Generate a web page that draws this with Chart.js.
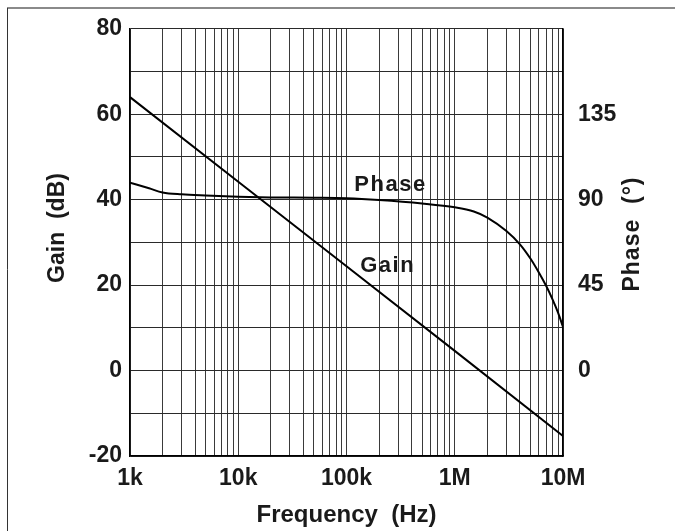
<!DOCTYPE html>
<html>
<head>
<meta charset="utf-8">
<script src="https://cdn.jsdelivr.net/npm/chart.js@4.4.1/dist/chart.umd.min.js"></script>
<style>
  html, body { margin: 0; padding: 0; background: #fff; }
</style>
</head>
<body>
<canvas id="bode" width="675" height="531"></canvas>
<script>
// open-loop gain / phase vs frequency
const decadeTicks = [1e3, 1e4, 1e5, 1e6, 1e7];
const decadeLabels = ['1k', '10k', '100k', '1M', '10M'];
const phaseTicks = [0, 45, 90, 135];

const gainFreq = [1e3, 1e4, 1e5, 1e6, 1e7];
const gainDb = [64, 44.2, 24.4, 4.6, -15.3];

const phaseFreq = [1e3, 1.5e3, 2e3, 3e3, 5e3, 1e4, 2e4, 5e4, 1e5, 2e5, 5e5,
  1e6, 1.5e6, 2e6, 3e6, 4e6, 5e6, 6e6, 7e6, 8e6, 9e6, 1e7];
const phaseDeg = [99, 96, 93.8, 92.8, 92.2, 91.6, 91.2, 91, 90.7, 89.8, 88,
  86, 83.8, 80.6, 73.5, 66.5, 59, 51.5, 44.5, 37.5, 30.5, 23];

const INK = '#1a1a1a';
const FONT = 'Liberation Sans, Arial, sans-serif';
const SIZE = 23;

const toPoints = (xs, ys) => xs.map((x, i) => ({ x, y: ys[i] }));

// 1..9 x every decade for the log grid
function logGridTicks(scale) {
  const ticks = [];
  for (let d = 0; d < decadeTicks.length - 1; d++) {
    for (let m = 1; m < 10; m++) ticks.push({ value: decadeTicks[d] * m });
  }
  ticks.push({ value: decadeTicks[decadeTicks.length - 1] });
  scale.ticks = ticks;
}

const textPlugin = {
  id: 'bodeText',
  beforeDraw(chart) {
    const ctx = chart.ctx;
    ctx.save();
    ctx.fillStyle = '#fff';
    ctx.fillRect(0, 0, chart.width, chart.height);
    // page frame
    ctx.strokeStyle = '#8a8a8a';
    ctx.lineWidth = 2;
    ctx.beginPath();
    ctx.moveTo(7, 8);
    ctx.lineTo(chart.width, 8);
    ctx.stroke();
    ctx.strokeStyle = '#333';
    ctx.lineWidth = 1;
    ctx.beginPath();
    ctx.moveTo(7.5, 8);
    ctx.lineTo(7.5, chart.height);
    ctx.stroke();
    ctx.restore();
  },
  afterDraw(chart) {
    const { ctx, scales } = chart;
    ctx.save();
    ctx.fillStyle = INK;
    ctx.textAlign = 'center';
    ctx.textBaseline = 'middle';
    ctx.font = 'bold 23px ' + FONT;

    // axis titles, both read bottom to top
    ctx.save();
    ctx.translate(58, 228);
    ctx.rotate(-Math.PI / 2);
    ctx.fillText('Gain  (dB)', 0, 0);
    ctx.restore();

    ctx.save();
    ctx.translate(633, 234);
    ctx.rotate(-Math.PI / 2);
    ctx.letterSpacing = '1px';
    ctx.fillText('Phase  (°)', 0, 0);
    ctx.restore();

    // curve labels
    ctx.font = 'bold 22px ' + FONT;
    ctx.letterSpacing = '1.5px';
    ctx.fillText('Phase', scales.x.getPixelForValue(2.55e5), scales.y.getPixelForValue(43.5));
    ctx.fillText('Gain', scales.x.getPixelForValue(2.4e5), scales.y.getPixelForValue(24.4));
    ctx.restore();
  }
};

const tickFont = { family: FONT, size: SIZE, weight: 'bold' };

new Chart(document.getElementById('bode'), {
  type: 'line',
  data: {
    datasets: [
      {
        label: 'Gain',
        data: toPoints(gainFreq, gainDb),
        yAxisID: 'y',
        borderColor: '#000',
        borderWidth: 2,
        pointRadius: 0,
        tension: 0
      },
      {
        label: 'Phase',
        data: toPoints(phaseFreq, phaseDeg),
        yAxisID: 'y2',
        borderColor: '#000',
        borderWidth: 2,
        pointRadius: 0,
        cubicInterpolationMode: 'monotone'
      }
    ]
  },
  options: {
    responsive: false,
    devicePixelRatio: 1,
    animation: false,
    layout: { padding: { top: 22, left: 0, right: 0, bottom: 0 } },
    plugins: { legend: { display: false }, tooltip: { enabled: false } },
    scales: {
      x: {
        type: 'logarithmic',
        position: 'bottom',
        min: 1e3,
        max: 1e7,
        afterBuildTicks: logGridTicks,
        afterFit: s => { s.height = 75; },
        grid: { color: '#3a3a3a', lineWidth: 1, drawTicks: false },
        border: { color: '#000', width: 1.5 },
        ticks: {
          autoSkip: false,
          maxRotation: 0,
          padding: 9,
          color: INK,
          font: tickFont,
          callback: v => {
            const i = decadeTicks.indexOf(v);
            return i >= 0 ? decadeLabels[i] : '';
          }
        },
        title: {
          display: true,
          text: 'Frequency  (Hz)',
          color: INK,
          font: { family: FONT, size: 24, weight: 'bold' },
          padding: { top: 0, bottom: 1 }
        }
      },
      y: {
        position: 'left',
        min: -20,
        max: 80,
        afterFit: s => { s.width = 130; },
        grid: { color: '#2a2a2a', lineWidth: 1, drawTicks: false },
        border: { color: '#000', width: 1.5 },
        ticks: {
          stepSize: 10,
          padding: 8,
          color: INK,
          font: tickFont,
          callback: v => (v % 20 === 0 ? String(v) : '')
        }
      },
      y2: {
        position: 'right',
        min: -45,
        max: 180,
        afterBuildTicks: s => { s.ticks = phaseTicks.map(value => ({ value })); },
        afterFit: s => { s.width = 112; },
        grid: { drawOnChartArea: false, drawTicks: false },
        border: { color: '#000', width: 1.5 },
        ticks: {
          padding: 15,
          color: INK,
          font: tickFont
        }
      }
    }
  },
  plugins: [textPlugin]
});
</script>
</body>
</html>
